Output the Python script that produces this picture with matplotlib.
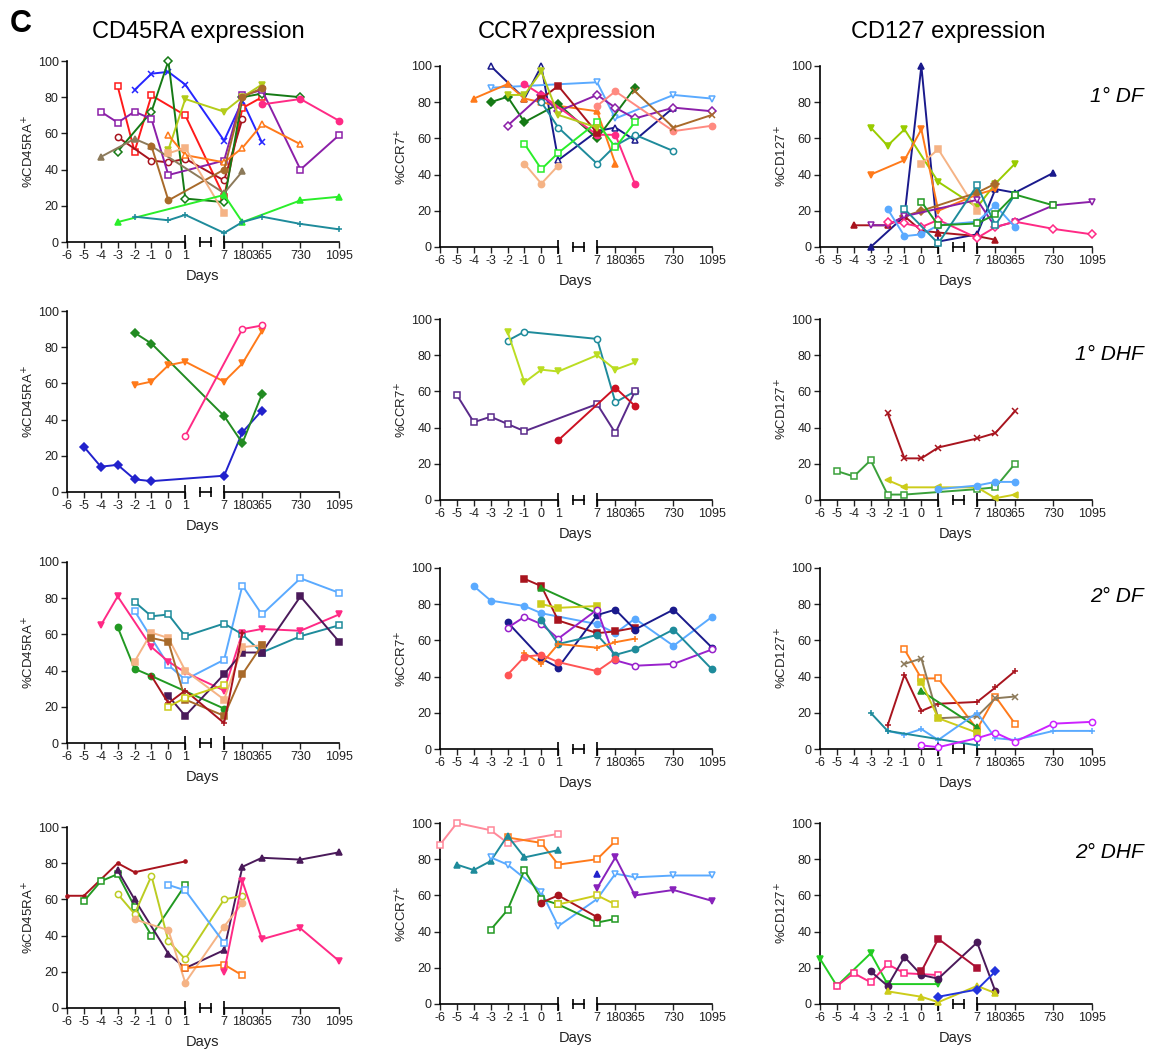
import numpy as np
import matplotlib
matplotlib.use("Agg")
import matplotlib.pyplot as plt

plt.rcParams['font.family'] = ['Liberation Sans', 'DejaVu Sans']

day_ticks = [-6, -5, -4, -3, -2, -1, 0, 1, 7, 180, 365, 730, 1095]
day_labels = [str(d) for d in day_ticks]

col_titles = ["CD45RA expression", "CCR7expression", "CD127 expression"]
y_labels = [r"%CD45RA$^{+}$", r"%CCR7$^{+}$", r"%CD127$^{+}$"]
row_titles = ["1° DF", "1° DHF", "2° DF", "2° DHF"]

# colours
BLUE = "#2626ff"; RED = "#ff1a1a"; MAROON = "#a8141e"; DGREEN = "#157a15"
PURPLE = "#8b1fa8"; YGREEN = "#b4cc1a"; ORANGE = "#ff7a1a"; KHAKI = "#8c7a5a"
BROWN = "#a86a2a"; PEACH = "#f5b385"; PINK = "#ff2a85"; LGREEN = "#2aee2a"
TEAL = "#1e8b9b"; NAVY = "#1a1a8c"; LBLUE = "#5aaaff"; SALMON = "#ff8a80"
DPURPLE = "#4a1a5a"; YELLOW = "#cccc1a"; GREEN = "#229922"; VIOLET = "#cc22ff"

# ---- 1° DF ----
cd45ra_df1 = [
    ([-2, -1, 0, 1, 7, 180, 365], [84, 93, 94, 87, 56, 78, 55]),
    ([-3, -2, -1, 1, 7, 180, 365], [86, 50, 81, 70, 25, 74, 80]),
    ([-3, -1, 0, 1, 7, 180], [58, 45, 44, 46, 34, 68]),
    ([-3, -1, 0, 1, 7, 180, 365, 730], [50, 72, 100, 24, 22, 80, 82, 80]),
    ([-4, -3, -2, -1, 0, 7, 180, 365, 730, 1095], [72, 66, 72, 68, 37, 45, 81, 84, 40, 59]),
    ([0, 1, 7, 180, 365], [51, 79, 72, 80, 87]),
    ([0, 1, 7, 180, 365, 730], [59, 48, 44, 52, 65, 54]),
    ([-4, -2, -1, 7, 180], [47, 57, 53, 27, 39]),
    ([-1, 0, 7, 180, 365], [53, 23, 40, 80, 85]),
    ([0, 1, 7], [49, 52, 16]),
    ([365, 730, 1095], [76, 79, 67]),
    ([-3, 7, 180, 730, 1095], [11, 26, 11, 23, 25]),
    ([-2, 0, 1, 7, 180, 365, 730, 1095], [14, 12, 15, 5, 11, 14, 10, 7]),
]
cd45ra_df1_style = [(BLUE, "x", True), (RED, "s", False), (MAROON, "o", False),
                    (DGREEN, "D", False), (PURPLE, "s", False), (YGREEN, "v", True),
                    (ORANGE, "^", False), (KHAKI, "^", True), (BROWN, "o", True),
                    (PEACH, "s", True), (PINK, "o", True), (LGREEN, "^", True),
                    (TEAL, "+", True)]

ccr7_df1 = [
    ([-3, -1, 0, 1, 7, 180, 365, 730], [100, 82, 100, 48, 64, 66, 59, 77]),
    ([-3, 7, 180, 730, 1095], [88, 91, 71, 84, 82]),
    ([-4, -2, -1, 0, 1, 7, 180], [82, 90, 82, 80, 78, 75, 46]),
    ([-3, -2, -1, 1, 7, 365], [80, 83, 69, 79, 60, 88]),
    ([-2, 0, 1, 7, 180, 365, 730, 1095], [67, 84, 75, 84, 77, 71, 77, 75]),
    ([-1, 0, 7, 180, 365], [90, 84, 62, 62, 35]),
    ([0, 1, 7], [82, 89, 63]),
    ([0, 1, 7, 180, 365, 730], [80, 66, 46, 56, 62, 53]),
    ([-1, 0, 1, 7, 180, 365], [57, 43, 52, 69, 55, 69]),
    ([-1, 0, 1], [46, 35, 45]),
    ([7, 180, 730, 1095], [78, 86, 64, 67]),
    ([365, 730, 1095], [86, 66, 73]),
    ([-2, -1, 0, 1, 7], [84, 84, 97, 73, 66]),
]
ccr7_df1_style = [(NAVY, "^", False), (LBLUE, "v", False), (ORANGE, "^", True),
                  (DGREEN, "D", True), (PURPLE, "D", False), (PINK, "o", True),
                  (MAROON, "s", True), (TEAL, "o", False), (LGREEN, "s", False),
                  (PEACH, "o", True), (SALMON, "o", True), (BROWN, "x", True),
                  (YGREEN, "v", True)]

cd127_df1 = [
    ([-3, -1, 0, 1, 7, 180, 365, 730], [0, 17, 100, 3, 7, 32, 30, 41]),
    ([-3, -2, -1, 1, 7, 180, 365], [66, 56, 65, 36, 22, 35, 46]),
    ([-3, -1, 0, 1, 7, 180], [40, 48, 65, 20, 29, 32]),
    ([0, 1, 7], [46, 54, 20]),
    ([-1, 0, 7, 180], [17, 20, 30, 35]),
    ([-4, -2, -1, 0, 1, 7, 180], [12, 12, 17, 9, 8, 6, 4]),
    ([-3, -2, -1, 7, 180, 365, 730, 1095], [12, 12, 17, 26, 11, 14, 23, 25]),
    ([-2, -1, 0, 1, 7, 180, 365, 730, 1095], [14, 13, 11, 15, 5, 11, 14, 10, 7]),
    ([-2, -1, 0, 1, 7, 180, 365], [21, 6, 7, 12, 14, 23, 11]),
    ([-1, 1, 7, 180, 365], [21, 2, 34, 12, 29]),
    ([0, 1, 7, 180, 365, 730], [25, 12, 13, 18, 29, 23]),
]
cd127_df1_style = [(NAVY, "^", True), ("#99cc00", "v", True), (ORANGE, "v", True),
                   (PEACH, "s", True), (BROWN, "D", True), (MAROON, "^", True),
                   (PURPLE, "v", False), (PINK, "D", False), (LBLUE, "o", True),
                   (TEAL, "s", False), (GREEN, "s", False)]

# ---- 1° DHF ----
cd45ra_dhf1 = [
    ([-5, -4, -3, -2, -1, 7, 180, 365], [25, 14, 15, 7, 6, 9, 33, 45]),
    ([-2, -1, 7, 180, 365], [88, 82, 42, 27, 54]),
    ([-2, -1, 0, 1, 7, 180, 365], [59, 61, 70, 72, 61, 71, 89]),
    ([1, 180, 365], [31, 90, 92]),
]
cd45ra_dhf1_style = [("#2222cc", "D", True), ("#228b22", "D", True),
                     (ORANGE, "v", True), (PINK, "o", False)]

ccr7_dhf1 = [
    ([-2, -1, 7, 180, 365], [88, 93, 89, 54, 60]),
    ([-2, -1, 0, 1, 7, 180, 365], [93, 65, 72, 71, 80, 72, 76]),
    ([-5, -4, -3, -2, -1, 7, 180, 365], [58, 43, 46, 42, 38, 53, 37, 60]),
    ([1, 180, 365], [33, 62, 52]),
]
ccr7_dhf1_style = [(TEAL, "o", False), ("#bbdd22", "v", True),
                   ("#5a2a8a", "s", False), ("#cc1122", "o", True)]

cd127_dhf1 = [
    ([-2, -1, 0, 1, 7, 180, 365], [48, 23, 23, 29, 34, 37, 49]),
    ([-5, -4, -3, -2, -1, 7, 180, 365], [16, 13, 22, 3, 3, 6, 7, 20]),
    ([-2, -1, 1, 7, 180, 365], [11, 7, 7, 7, 1, 3]),
    ([1, 7, 180, 365], [6, 8, 10, 10]),
]
cd127_dhf1_style = [(MAROON, "x", True), ("#3aa03a", "s", False),
                    (YELLOW, "<", True), (LBLUE, "o", True)]

# ---- 2° DF ----
cd45ra_df2 = [
    ([-2, 0, 1, 7, 180, 365, 730, 1095], [73, 43, 35, 46, 87, 71, 91, 83]),
    ([-2, -1, 0, 1, 7, 180, 365, 730, 1095], [78, 70, 71, 59, 66, 60, 50, 59, 65]),
    ([-4, -3, -1, 0, 1, 7, 180, 365, 730, 1095], [65, 81, 53, 45, 39, 29, 61, 63, 62, 71]),
    ([-3, -2, -1, 7], [64, 41, 37, 19]),
    ([0, 1, 7, 180, 365, 730, 1095], [26, 15, 38, 50, 50, 81, 56]),
    ([-2, -1, 0, 1, 7, 180, 365], [45, 61, 58, 40, 24, 53, 54]),
    ([-1, 0, 1, 7, 180, 365], [58, 56, 24, 15, 38, 54]),
    ([-1, 0, 1, 7, 180], [37, 22, 29, 11, 61]),
    ([0, 1, 7], [20, 25, 32]),
]
cd45ra_df2_style = [(LBLUE, "s", False), (TEAL, "s", False), (PINK, "v", True),
                    (GREEN, "o", True), (DPURPLE, "s", True), (PEACH, "s", True),
                    (BROWN, "s", True), (MAROON, "+", True), (YELLOW, "s", False)]

ccr7_df2 = [
    ([-4, -3, -1, 0, 7, 180, 365, 730, 1095], [90, 82, 79, 75, 69, 64, 72, 57, 73]),
    ([-1, 0, 1, 7, 180, 365], [94, 90, 71, 64, 65, 67]),
    ([0, 7], [89, 75]),
    ([0, 1, 7], [80, 78, 79]),
    ([-2, 0, 1, 7, 180, 365, 730, 1095], [70, 50, 45, 74, 77, 66, 77, 56]),
    ([-2, -1, 0, 1, 7, 180, 365, 730, 1095], [67, 73, 69, 61, 77, 49, 46, 47, 55]),
    ([0, 1, 7, 180, 365, 730, 1095], [71, 58, 63, 52, 55, 66, 44]),
    ([-1, 0, 1, 7, 180, 365], [53, 47, 58, 56, 59, 61]),
    ([-2, -1, 0, 1, 7, 180], [41, 51, 52, 48, 43, 50]),
]
ccr7_df2_style = [(LBLUE, "o", True), (MAROON, "s", True), (GREEN, "^", True),
                  (YELLOW, "s", True), (NAVY, "o", True), ("#9922cc", "o", False),
                  (TEAL, "o", True), (ORANGE, "+", True), ("#ff5555", "o", True)]

cd127_df2 = [
    ([-2, -1, 0, 1, 7, 180, 365], [13, 41, 21, 25, 26, 34, 43]),
    ([-1, 0, 1, 7, 180, 365], [55, 39, 39, 11, 29, 14]),
    ([-1, 0, 1, 7, 180, 365], [47, 50, 17, 18, 28, 29]),
    ([0, 7], [32, 12]),
    ([0, 1, 7], [37, 17, 9]),
    ([-2, -1, 0, 1, 7, 180, 365, 730, 1095], [10, 8, 11, 5, 20, 6, 5, 10, 10]),
    ([-3, -2, 7], [20, 10, 2]),
    ([0, 1, 7, 180, 365, 730, 1095], [2, 1, 6, 9, 4, 14, 15]),
]
cd127_df2_style = [(MAROON, "+", True), (ORANGE, "s", False), (KHAKI, "x", True),
                   (GREEN, "^", True), (YELLOW, "s", True), (LBLUE, "+", True),
                   (TEAL, "+", True), (VIOLET, "o", False)]

# ---- 2° DHF ----
cd45ra_dhf2 = [
    ([-6, -5, -4, -3, -2, 1], [62, 62, 71, 80, 75, 81]),
    ([-5, -4, -3, -2, -1, 1], [59, 70, 74, 56, 40, 68]),
    ([-3, -2, 0, 1, 7, 180, 365, 730, 1095], [76, 60, 30, 22, 32, 78, 83, 82, 86]),
    ([-3, -2, -1, 0, 1, 7, 180], [63, 52, 73, 37, 27, 60, 62]),
    ([-2, 0, 1, 7, 180], [49, 43, 14, 45, 58]),
    ([0, 1, 7], [68, 65, 36]),
    ([1, 7, 180], [22, 24, 18]),
    ([7, 180, 365, 730, 1095], [20, 70, 38, 44, 26]),
]
cd45ra_dhf2_style = [(MAROON, ".", True), (GREEN, "s", False), (DPURPLE, "^", True),
                     ("#bbcc22", "o", False), (PEACH, "o", True), (LBLUE, "s", False),
                     (ORANGE, "s", False), (PINK, "v", True)]

ccr7_dhf2 = [
    ([-6, -5, -3, -2, 1], [88, 100, 96, 89, 94]),
    ([-2, 0, 1, 7, 180], [92, 89, 77, 80, 90]),
    ([-5, -4, -3, -2, -1, 1], [77, 74, 79, 93, 81, 85]),
    ([-3, -2, 0, 1, 7, 180, 365, 730, 1095], [81, 77, 62, 43, 58, 72, 70, 71, 71]),
    ([-3, -2, -1, 0, 1, 7, 180], [41, 52, 74, 58, 55, 45, 47]),
    ([0, 1, 7], [56, 60, 48]),
    ([1, 7, 180], [55, 60, 55]),
    ([7, 180, 365, 730, 1095], [64, 81, 60, 63, 57]),
    ([7], [72]),
]
ccr7_dhf2_style = [("#ff8899", "s", False), (ORANGE, "s", False), (TEAL, "^", True),
                   (LBLUE, "v", False), (GREEN, "s", False), (MAROON, "o", True),
                   (YELLOW, "s", False), ("#8822bb", "v", True), ("#2222cc", "^", True)]

cd127_dhf2 = [
    ([-6, -5, -3, -2, 1], [25, 10, 28, 11, 11]),
    ([-5, -4, -3, -2, -1, 1], [10, 17, 12, 22, 17, 16]),
    ([-3, -2, -1, 0, 1, 7, 180], [18, 10, 26, 16, 14, 34, 7]),
    ([0, 1, 7], [18, 36, 20]),
    ([-2, 0, 1, 7, 180], [7, 4, 1, 10, 6]),
    ([1, 7, 180], [4, 8, 18]),
]
cd127_dhf2_style = [("#22cc22", "v", True), (PINK, "s", False), (DPURPLE, "o", True),
                    ("#aa1133", "s", True), (YELLOW, "^", True), ("#2233dd", "D", True)]

panels = [
    [(cd45ra_df1, cd45ra_df1_style), (ccr7_df1, ccr7_df1_style), (cd127_df1, cd127_df1_style)],
    [(cd45ra_dhf1, cd45ra_dhf1_style), (ccr7_dhf1, ccr7_dhf1_style), (cd127_dhf1, cd127_dhf1_style)],
    [(cd45ra_df2, cd45ra_df2_style), (ccr7_df2, ccr7_df2_style), (cd127_df2, cd127_df2_style)],
    [(cd45ra_dhf2, cd45ra_dhf2_style), (ccr7_dhf2, ccr7_dhf2_style), (cd127_dhf2, cd127_dhf2_style)],
]


# broken day axis: -6..1 one unit per day, gap, 7..1095 at 160 days per unit
def fwd(d):
    d = np.asarray(d, float)
    return np.where(d <= 1, d + 6, np.where(d <= 7, 7 + (d - 1) * 2.3 / 6, 9.3 + (d - 7) / 160))


def inv(p):
    p = np.asarray(p, float)
    return np.where(p <= 7, p - 6, np.where(p <= 9.3, 1 + (p - 7) * 6 / 2.3, 7 + (p - 9.3) * 160))


W, H = 1149, 1051
fig = plt.figure(figsize=(W / 100, H / 100), dpi=100)

col_left = [67, 440, 820]
row_bottom = [[242, 247, 247], [492, 500, 500], [743, 749, 749], [1008, 1004, 1004]]
ax_w, ax_h = 272, 181

for r in range(4):
    for c in range(3):
        data, styles = panels[r][c]
        yb = row_bottom[r][c]
        ax = fig.add_axes([col_left[c] / W, 1 - yb / H, ax_w / W, ax_h / H])
        ax.set_xscale('function', functions=(fwd, inv))
        for (xs, ys), (col, mk, filled) in zip(data, styles):
            ax.plot(xs, ys, color=col, lw=1.4, marker=mk, ms=4.5 if mk not in "x+" else 5,
                    mfc=col if filled else "white", mec=col, mew=1.1, clip_on=False, zorder=3)
        ax.set_xlim(-6, 1095)
        ax.set_ylim(0, 100)
        ax.set_yticks([0, 20, 40, 60, 80, 100])
        ax.set_xticks(day_ticks)
        ax.set_xticklabels(day_labels)
        ax.minorticks_off()
        ax.tick_params(direction='out', length=4, width=1, labelsize=9,
                       colors='#222222', pad=2)
        for s in ['top', 'right', 'bottom']:
            ax.spines[s].set_visible(False)
        ax.spines['left'].set_linewidth(1.2)
        # segmented x axis with break
        ax.plot([-6, 1], [0, 0], color='k', lw=1.2, clip_on=False, zorder=2)
        ax.plot([7, 1095], [0, 0], color='k', lw=1.2, clip_on=False, zorder=2)
        ax.plot([1, 7], [0, 0], ls='none', marker='|', ms=10, mew=1.2, color='k', clip_on=False)
        gap = inv([7.85, 8.5])
        ax.plot(gap, [0, 0], color='k', lw=1.2, marker='|', ms=7, mew=1.2, clip_on=False)
        ax.set_ylabel(y_labels[c], fontsize=9.5, color='#222222', labelpad=1)
        ax.set_xlabel("Days", fontsize=10.5, color='#222222', labelpad=5)
        ax.patch.set_alpha(0)

title_x = [198, 567, 948]
for c in range(3):
    fig.text(title_x[c] / W, 1 - 32 / H, col_titles[c], fontsize=17, ha='center', va='center')

fig.text(10 / W, 1 - 24 / H, "C", fontsize=22, fontweight='bold', ha='left', va='center')

row_label_y = [97, 354, 597, 853]
for r in range(4):
    fig.text(1144 / W, 1 - row_label_y[r] / H, row_titles[r], fontsize=15,
             style='italic', ha='right', va='center')

fig.savefig("out.png", dpi=100)
